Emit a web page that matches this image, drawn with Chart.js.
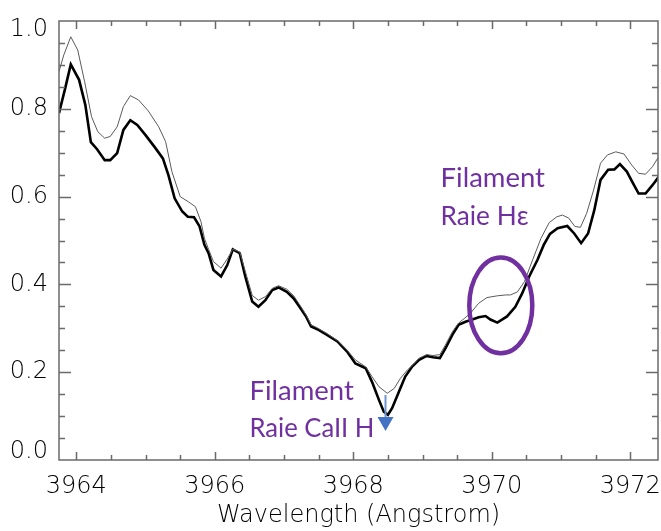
<!DOCTYPE html>
<html>
<head>
<meta charset="utf-8">
<title>Spectre CaII H</title>
<script src="https://cdn.jsdelivr.net/npm/chart.js@4.4.1/dist/chart.umd.min.js"></script>
<style>
    html, body { margin: 0; padding: 0; background: #fff; }
    #wrap { width: 661px; height: 531px; position: relative; }
</style>
</head>
<body>
<div id="wrap"><canvas id="spectrum"></canvas></div>
<script>
// Axis ticks (labelled)
const xMajorTicks = [3964, 3966, 3968, 3970, 3972];
const yMajorTicks = [0.0, 0.2, 0.4, 0.6, 0.8, 1.0];

// Thick black profile (filament)
const blackWave = [3963.75, 3963.84, 3963.92, 3964.04, 3964.13, 3964.21, 3964.30, 3964.41, 3964.49, 3964.59,
    3964.68, 3964.78, 3964.88, 3965.00, 3965.14, 3965.25, 3965.33, 3965.42, 3965.53, 3965.61,
    3965.70, 3965.78, 3965.85, 3965.91, 3965.98, 3966.09, 3966.18, 3966.26, 3966.36, 3966.44,
    3966.54, 3966.63, 3966.73, 3966.83, 3966.92, 3967.04, 3967.14, 3967.24, 3967.32, 3967.39,
    3967.48, 3967.62, 3967.77, 3967.91, 3968.03, 3968.18, 3968.27, 3968.37, 3968.44, 3968.50,
    3968.56, 3968.66, 3968.75, 3968.85, 3968.95, 3969.06, 3969.15, 3969.25, 3969.33, 3969.43,
    3969.52, 3969.62, 3969.72, 3969.81, 3969.91, 3969.98, 3970.08, 3970.22, 3970.34, 3970.44,
    3970.54, 3970.66, 3970.75, 3970.84, 3970.95, 3971.09, 3971.19, 3971.29, 3971.39, 3971.48,
    3971.57, 3971.68, 3971.77, 3971.85, 3971.95, 3972.04, 3972.12, 3972.22, 3972.32, 3972.41];
const blackFlux = [0.790, 0.847, 0.901, 0.866, 0.809, 0.724, 0.708, 0.683, 0.683, 0.699,
    0.752, 0.774, 0.763, 0.740, 0.711, 0.687, 0.649, 0.596, 0.566, 0.554,
    0.553, 0.532, 0.490, 0.471, 0.433, 0.418, 0.444, 0.480, 0.471, 0.418,
    0.361, 0.349, 0.364, 0.387, 0.393, 0.383, 0.368, 0.345, 0.326, 0.304,
    0.298, 0.285, 0.270, 0.247, 0.220, 0.209, 0.178, 0.137, 0.110, 0.103,
    0.118, 0.156, 0.190, 0.213, 0.228, 0.237, 0.234, 0.232, 0.254, 0.285,
    0.308, 0.315, 0.320, 0.325, 0.328, 0.320, 0.313, 0.327, 0.349, 0.380,
    0.418, 0.456, 0.490, 0.515, 0.528, 0.533, 0.516, 0.494, 0.516, 0.569,
    0.638, 0.661, 0.662, 0.674, 0.657, 0.630, 0.607, 0.607, 0.626, 0.645];

// Thin grey profile (reference)
const greyWave = [3963.75, 3963.82, 3963.92, 3964.02, 3964.12, 3964.22, 3964.31, 3964.41, 3964.49, 3964.59,
    3964.68, 3964.78, 3964.90, 3965.04, 3965.19, 3965.29, 3965.38, 3965.50, 3965.62, 3965.72,
    3965.80, 3965.85, 3965.91, 3965.98, 3966.09, 3966.18, 3966.26, 3966.36, 3966.44, 3966.54,
    3966.63, 3966.73, 3966.83, 3966.92, 3967.04, 3967.14, 3967.24, 3967.32, 3967.39, 3967.48,
    3967.62, 3967.77, 3967.91, 3968.03, 3968.18, 3968.27, 3968.37, 3968.49, 3968.59, 3968.68,
    3968.78, 3968.87, 3968.95, 3969.06, 3969.15, 3969.25, 3969.33, 3969.43, 3969.52, 3969.60,
    3969.69, 3969.81, 3969.93, 3970.08, 3970.20, 3970.27, 3970.37, 3970.47, 3970.59, 3970.71,
    3970.83, 3970.94, 3971.02, 3971.11, 3971.20, 3971.28, 3971.37, 3971.47, 3971.57, 3971.67,
    3971.79, 3971.91, 3972.02, 3972.12, 3972.22, 3972.32, 3972.41];
const greyFlux = [0.885, 0.923, 0.964, 0.934, 0.862, 0.782, 0.748, 0.733, 0.737, 0.759,
    0.805, 0.830, 0.820, 0.795, 0.759, 0.725, 0.657, 0.600, 0.588, 0.577,
    0.543, 0.505, 0.480, 0.452, 0.437, 0.458, 0.480, 0.474, 0.430, 0.375,
    0.364, 0.372, 0.391, 0.397, 0.389, 0.374, 0.350, 0.330, 0.308, 0.301,
    0.288, 0.272, 0.250, 0.228, 0.212, 0.190, 0.167, 0.152, 0.163, 0.186,
    0.205, 0.218, 0.232, 0.240, 0.238, 0.240, 0.262, 0.292, 0.312, 0.322,
    0.334, 0.357, 0.370, 0.374, 0.376, 0.376, 0.383, 0.406, 0.456, 0.505,
    0.541, 0.554, 0.558, 0.551, 0.532, 0.530, 0.562, 0.615, 0.676, 0.695,
    0.702, 0.697, 0.672, 0.653, 0.651, 0.668, 0.691];

const axisColor = '#6a6a6a';
const purple = '#7030a0';
const tickFont = { family: '"DejaVu Sans", sans-serif', size: 24, weight: 200 };
const noteFont = '27.5px Lato, "Open Sans", sans-serif';

// Frame with inward ticks on all four sides (IDL style)
const frameTicks = {
    id: 'frameTicks',
    afterDatasetsDraw(chart) {
        const { ctx, chartArea: a, scales: { x, y } } = chart;
        ctx.save();
        ctx.strokeStyle = axisColor;
        ctx.lineWidth = 1.5;
        ctx.strokeRect(a.left, a.top, a.right - a.left, a.bottom - a.top);
        ctx.beginPath();
        // wavelength ticks every 0.5, long on the labelled ones
        for (let v = Math.ceil(x.min * 2) / 2; v <= x.max; v += 0.5) {
            const px = Math.round(x.getPixelForValue(v)) + 0.5;
            const len = xMajorTicks.includes(v) ? 8 : 5;
            ctx.moveTo(px, a.bottom); ctx.lineTo(px, a.bottom - len);
            ctx.moveTo(px, a.top); ctx.lineTo(px, a.top + len);
        }
        // intensity ticks every 0.05
        for (let i = 1; i < 20; i++) {
            const py = Math.round(y.getPixelForValue(i * 0.05)) + 0.5;
            const len = i % 4 === 0 ? 12 : 6;
            ctx.moveTo(a.left, py); ctx.lineTo(a.left + len, py);
            ctx.moveTo(a.right, py); ctx.lineTo(a.right - len, py);
        }
        ctx.stroke();
        ctx.restore();
    }
};

// Purple notes, ellipse and blue arrow
const notes = {
    id: 'notes',
    afterDatasetsDraw(chart) {
        const { ctx, scales: { x, y } } = chart;
        ctx.save();
        ctx.fillStyle = purple;
        ctx.font = noteFont;
        ctx.textBaseline = 'alphabetic';
        ctx.fillText('Filament', x.getPixelForValue(3969.26), y.getPixelForValue(0.622));
        ctx.fillText('Raie H\u03b5', x.getPixelForValue(3969.26), y.getPixelForValue(0.536), 88);
        ctx.fillText('Filament', x.getPixelForValue(3966.50), y.getPixelForValue(0.137));
        ctx.fillText('Raie CaII H', x.getPixelForValue(3966.50), y.getPixelForValue(0.052), 125);

        // ellipse around the H-epsilon bump
        const cx = x.getPixelForValue(3970.13), cy = y.getPixelForValue(0.352);
        const rx = x.getPixelForValue(3970.13 + 0.455) - cx;
        const ry = cy - y.getPixelForValue(0.352 + 0.109);
        ctx.strokeStyle = purple;
        ctx.lineWidth = 4.5;
        ctx.beginPath();
        ctx.ellipse(cx, cy, rx, ry, 0, 0, Math.PI * 2);
        ctx.stroke();

        // arrow at the CaII H core
        const ax = x.getPixelForValue(3968.465);
        const top = y.getPixelForValue(0.148), head = y.getPixelForValue(0.098), tip = y.getPixelForValue(0.066);
        ctx.strokeStyle = '#6f94d4';
        ctx.lineWidth = 2;
        ctx.beginPath();
        ctx.moveTo(ax, top); ctx.lineTo(ax, head);
        ctx.stroke();
        ctx.fillStyle = '#4472c4';
        ctx.beginPath();
        ctx.moveTo(ax - 8, head); ctx.lineTo(ax + 8, head); ctx.lineTo(ax, tip);
        ctx.closePath();
        ctx.fill();
        ctx.restore();
    }
};

const toPoints = (xs, ys) => xs.map((v, i) => ({ x: v, y: ys[i] }));

new Chart(document.getElementById('spectrum'), {
    type: 'line',
    data: {
        datasets: [{
            data: toPoints(greyWave, greyFlux),
            borderColor: '#5a5a5a',
            borderWidth: 1,
            pointRadius: 0,
            tension: 0
        }, {
            data: toPoints(blackWave, blackFlux),
            borderColor: '#000',
            borderWidth: 2.6,
            pointRadius: 0,
            tension: 0
        }]
    },
    options: {
        responsive: true,
        maintainAspectRatio: false,
        animation: false,
        layout: { padding: { top: 21, right: 3, left: 0, bottom: 0 } },
        plugins: { legend: { display: false }, tooltip: { enabled: false } },
        scales: {
            x: {
                type: 'linear',
                min: 3963.75,
                max: 3972.4,
                grid: { display: false, drawTicks: false },
                border: { display: false },
                afterBuildTicks: s => { s.ticks = xMajorTicks.map(v => ({ value: v })); },
                afterFit: s => { s.height = 71; s.paddingLeft = 0; s.paddingRight = 0; },
                ticks: {
                    font: tickFont,
                    color: '#000',
                    padding: 12,
                    maxRotation: 0,
                    callback: v => v.toFixed(0)
                },
                title: {
                    display: true,
                    text: 'Wavelength (Angstrom)',
                    font: tickFont,
                    color: '#000',
                    padding: { top: 0, bottom: 1 }
                }
            },
            y: {
                min: 0,
                max: 1,
                grid: { display: false, drawTicks: false },
                border: { display: false },
                afterBuildTicks: s => { s.ticks = yMajorTicks.map(v => ({ value: v })); },
                afterFit: s => { s.width = 59; s.paddingTop = 0; s.paddingBottom = 0; },
                ticks: {
                    // end labels sit inside the frame, like IDL does
                    font: { ...tickFont, lineHeight: 0.72 },
                    color: '#000',
                    padding: 11,
                    callback: v => {
                        const s = v.toFixed(1);
                        if (v === 1) return ['', s];
                        if (v === 0) return [s, ''];
                        return s;
                    }
                }
            }
        }
    },
    plugins: [frameTicks, notes]
});
</script>
</body>
</html>
